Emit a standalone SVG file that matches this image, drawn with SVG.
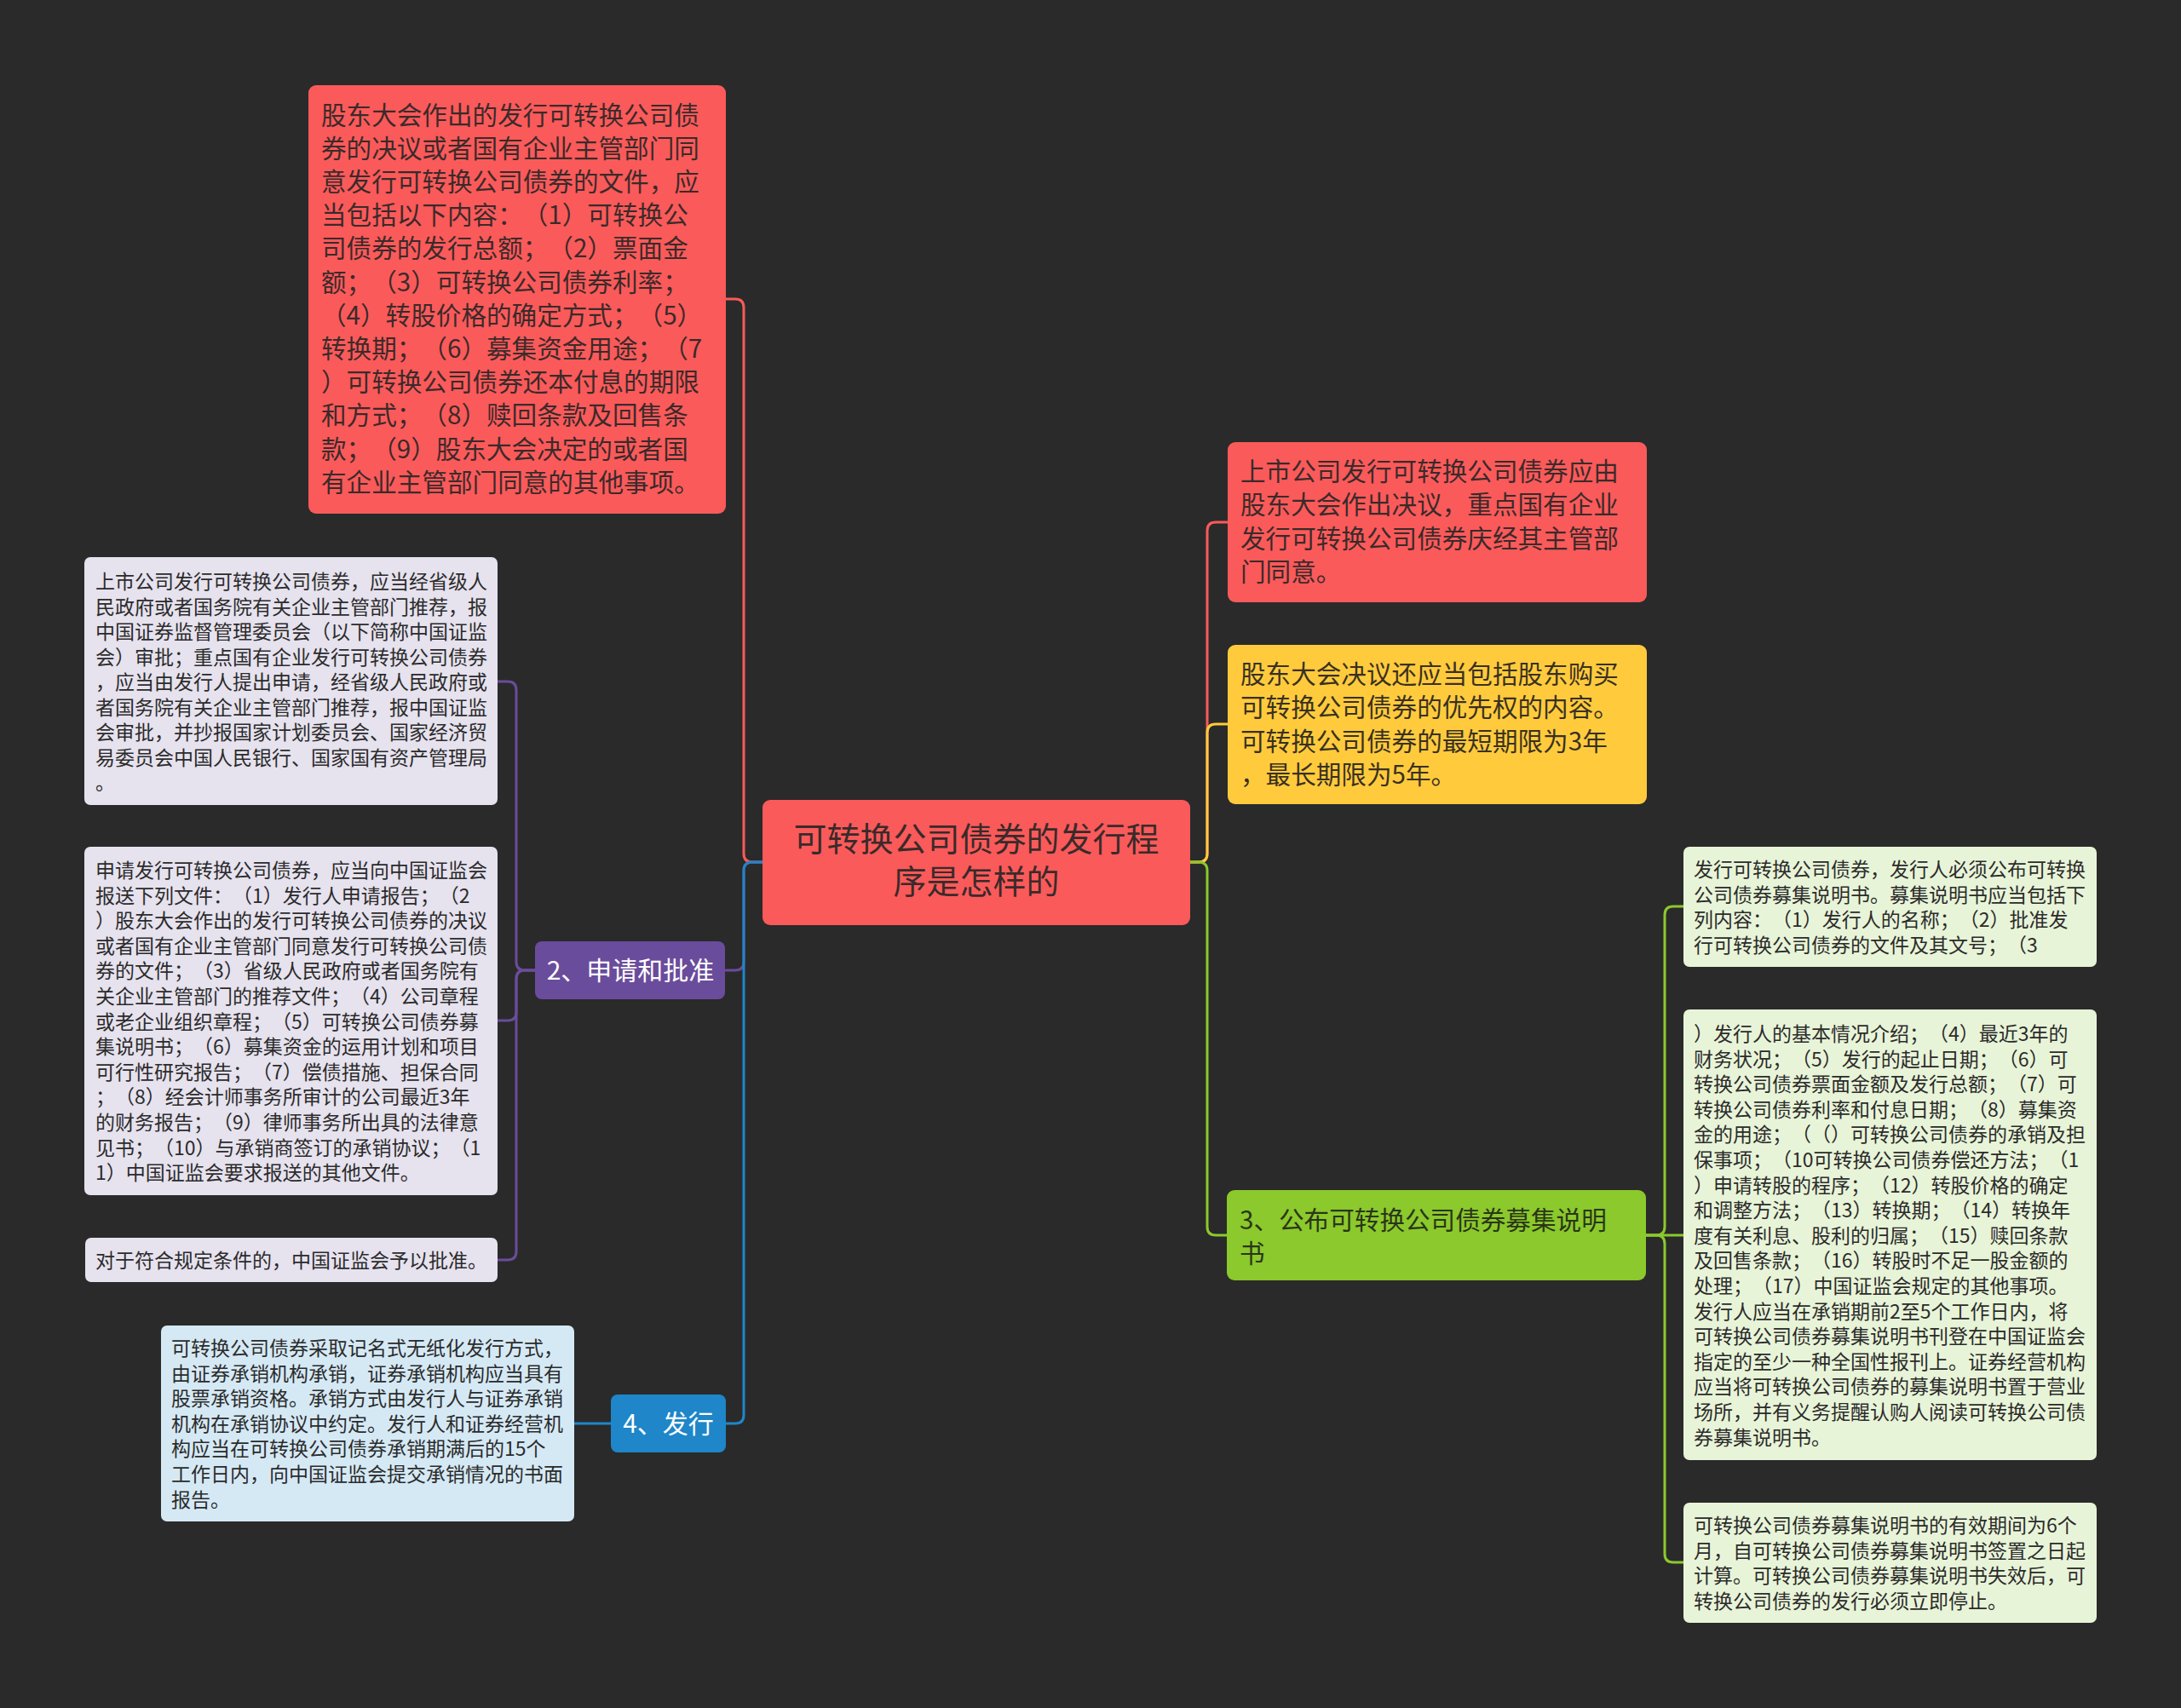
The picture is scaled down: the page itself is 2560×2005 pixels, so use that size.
<svg xmlns="http://www.w3.org/2000/svg" width="2560" height="2005" viewBox="0 0 2560 2005">
<style>
text{font-family:"Noto Sans CJK SC","Noto Sans",sans-serif;dominant-baseline:central;text-spacing-trim:space-all}
.t30{font-size:29.6px}
.t24{font-size:23px}
.dark{fill:#3a2a2a}
.ink{fill:#2b2b2b}
.w{fill:#ffffff;font-size:30px}
.c{fill:none;stroke-width:3;stroke-linecap:round;stroke-linejoin:round}
</style>
<rect x="0" y="0" width="2560" height="2005" fill="#2a2a2a"/>
<g id="connectors">
<path class="c" stroke="#fa5a5a" d="M895,1012 H883 Q873,1012 873,1002 V361 Q873,351 863,351 H852"/>
<path class="c" stroke="#6a4c9c" d="M895,1012 H883 Q873,1012 873,1022 V1129 Q873,1139 863,1139 H852"/>
<path class="c" stroke="#1e86c9" d="M895,1012 H883 Q873,1012 873,1022 V1661 Q873,1671 863,1671 H852"/>
<path class="c" stroke="#6a4c9c" d="M628,1139 H616 Q606,1139 606,1129 V810 Q606,800 596,800 H584"/>
<path class="c" stroke="#6a4c9c" d="M628,1139 H616 Q606,1139 606,1149 V1188 Q606,1198 596,1198 H584"/>
<path class="c" stroke="#6a4c9c" d="M628,1139 H616 Q606,1139 606,1149 V1469 Q606,1479 596,1479 H584"/>
<path class="c" stroke="#1e86c9" d="M717,1671 H674"/>
<path class="c" stroke="#fa5a5a" d="M1397,1012 H1407 Q1417,1012 1417,1002 V623 Q1417,613 1427,613 H1441"/>
<path class="c" stroke="#ffcb3d" d="M1397,1012 H1407 Q1417,1012 1417,1002 V860 Q1417,850 1427,850 H1441"/>
<path class="c" stroke="#8bc92c" d="M1397,1012 H1407 Q1417,1012 1417,1022 V1440 Q1417,1450 1427,1450 H1440"/>
<path class="c" stroke="#8bc92c" d="M1932,1450 H1944 Q1954,1450 1954,1440 V1074 Q1954,1064 1964,1064 H1976"/>
<path class="c" stroke="#8bc92c" d="M1932,1450 H1976"/>
<path class="c" stroke="#8bc92c" d="M1932,1450 H1944 Q1954,1450 1954,1460 V1824 Q1954,1834 1964,1834 H1976"/>
</g>
<g id="root">
<rect x="895" y="939" width="502" height="147" rx="9" fill="#fa5a5a"/>
<text x="1146" y="982" font-size="39" text-anchor="middle" class="dark">可转换公司债券的发行程</text>
<text x="1146" y="1032" font-size="39" text-anchor="middle" class="dark">序是怎样的</text>
</g>
<g id="n-red-left">
<rect x="362" y="100" width="490" height="503" rx="9" fill="#fa5a5a"/>
<g class="t30 dark">
<text x="377" y="133">股东大会作出的发行可转换公司债</text>
<text x="377" y="172.2">券的决议或者国有企业主管部门同</text>
<text x="377" y="211.4">意发行可转换公司债券的文件，应</text>
<text x="377" y="250.6">当包括以下内容：（1）可转换公</text>
<text x="377" y="289.8">司债券的发行总额；（2）票面金</text>
<text x="377" y="329">额；（3）可转换公司债券利率；</text>
<text x="377" y="368.2">（4）转股价格的确定方式；（5）</text>
<text x="377" y="407.4">转换期；（6）募集资金用途；（7</text>
<text x="377" y="446.6">）可转换公司债券还本付息的期限</text>
<text x="377" y="485.8">和方式；（8）赎回条款及回售条</text>
<text x="377" y="525">款；（9）股东大会决定的或者国</text>
<text x="377" y="564.2">有企业主管部门同意的其他事项。</text>
</g>
</g>
<g id="n-apply">
<rect x="628" y="1105" width="223" height="68" rx="8" fill="#6a4c9c"/>
<text x="740" y="1137" text-anchor="middle" class="w">2、申请和批准</text>
</g>
<g id="n-gray1">
<rect x="99" y="654" width="485" height="291" rx="7" fill="#e6e2ee"/>
<g class="t24 ink">
<text x="112" y="681">上市公司发行可转换公司债券，应当经省级人</text>
<text x="112" y="710.5">民政府或者国务院有关企业主管部门推荐，报</text>
<text x="112" y="740">中国证券监督管理委员会（以下简称中国证监</text>
<text x="112" y="769.5">会）审批；重点国有企业发行可转换公司债券</text>
<text x="112" y="799">，应当由发行人提出申请，经省级人民政府或</text>
<text x="112" y="828.5">者国务院有关企业主管部门推荐，报中国证监</text>
<text x="112" y="858">会审批，并抄报国家计划委员会、国家经济贸</text>
<text x="112" y="887.5">易委员会中国人民银行、国家国有资产管理局</text>
<text x="112" y="917">。</text>
</g>
</g>
<g id="n-gray2">
<rect x="99" y="994" width="485" height="409" rx="7" fill="#e6e2ee"/>
<g class="t24 ink">
<text x="112" y="1020">申请发行可转换公司债券，应当向中国证监会</text>
<text x="112" y="1049.6">报送下列文件：（1）发行人申请报告；（2</text>
<text x="112" y="1079.2">）股东大会作出的发行可转换公司债券的决议</text>
<text x="112" y="1108.8">或者国有企业主管部门同意发行可转换公司债</text>
<text x="112" y="1138.4">券的文件；（3）省级人民政府或者国务院有</text>
<text x="112" y="1168">关企业主管部门的推荐文件；（4）公司章程</text>
<text x="112" y="1197.6">或老企业组织章程；（5）可转换公司债券募</text>
<text x="112" y="1227.2">集说明书；（6）募集资金的运用计划和项目</text>
<text x="112" y="1256.8">可行性研究报告；（7）偿债措施、担保合同</text>
<text x="112" y="1286.4">；（8）经会计师事务所审计的公司最近3年</text>
<text x="112" y="1316">的财务报告；（9）律师事务所出具的法律意</text>
<text x="112" y="1345.6">见书；（10）与承销商签订的承销协议；（1</text>
<text x="112" y="1375.2">1）中国证监会要求报送的其他文件。</text>
</g>
</g>
<g id="n-gray3">
<rect x="100" y="1453" width="484" height="52" rx="7" fill="#e6e2ee"/>
<text x="112" y="1478" class="t24 ink">对于符合规定条件的，中国证监会予以批准。</text>
</g>
<g id="n-issue">
<rect x="717" y="1637" width="135" height="68" rx="8" fill="#1e86c9"/>
<text x="784.5" y="1669" text-anchor="middle" class="w">4、发行</text>
</g>
<g id="n-blue">
<rect x="189" y="1556" width="485" height="230" rx="7" fill="#d5e9f5"/>
<g class="t24 ink">
<text x="201" y="1581">可转换公司债券采取记名式无纸化发行方式，</text>
<text x="201" y="1610.6">由证券承销机构承销，证券承销机构应当具有</text>
<text x="201" y="1640.2">股票承销资格。承销方式由发行人与证券承销</text>
<text x="201" y="1669.8">机构在承销协议中约定。发行人和证券经营机</text>
<text x="201" y="1699.4">构应当在可转换公司债券承销期满后的15个</text>
<text x="201" y="1729">工作日内，向中国证监会提交承销情况的书面</text>
<text x="201" y="1758.6">报告。</text>
</g>
</g>
<g id="n-red-right">
<rect x="1441" y="519" width="492" height="188" rx="9" fill="#fa5a5a"/>
<g class="t30 dark">
<text x="1456" y="551">上市公司发行可转换公司债券应由</text>
<text x="1456" y="590.5">股东大会作出决议，重点国有企业</text>
<text x="1456" y="630">发行可转换公司债券庆经其主管部</text>
<text x="1456" y="669.5">门同意。</text>
</g>
</g>
<g id="n-yellow">
<rect x="1441" y="757" width="492" height="187" rx="9" fill="#ffcb3d"/>
<g class="t30" fill="#3a3020">
<text x="1456" y="789">股东大会决议还应当包括股东购买</text>
<text x="1456" y="828.5">可转换公司债券的优先权的内容。</text>
<text x="1456" y="868">可转换公司债券的最短期限为3年</text>
<text x="1456" y="907.5">，最长期限为5年。</text>
</g>
</g>
<g id="n-publish">
<rect x="1440" y="1397" width="492" height="106" rx="9" fill="#8bc92c"/>
<g class="t30" fill="#2a3518">
<text x="1455" y="1430">3、公布可转换公司债券募集说明</text>
<text x="1455" y="1469">书</text>
</g>
</g>
<g id="n-green1">
<rect x="1976" y="994" width="485" height="141" rx="7" fill="#e8f4d8"/>
<g class="t24 ink">
<text x="1988" y="1019">发行可转换公司债券，发行人必须公布可转换</text>
<text x="1988" y="1048.6">公司债券募集说明书。募集说明书应当包括下</text>
<text x="1988" y="1078.2">列内容：（1）发行人的名称；（2）批准发</text>
<text x="1988" y="1107.8">行可转换公司债券的文件及其文号；（3</text>
</g>
</g>
<g id="n-green2">
<rect x="1976" y="1185" width="485" height="529" rx="7" fill="#e8f4d8"/>
<g class="t24 ink">
<text x="1988" y="1212">）发行人的基本情况介绍；（4）最近3年的</text>
<text x="1988" y="1241.6">财务状况；（5）发行的起止日期；（6）可</text>
<text x="1988" y="1271.2">转换公司债券票面金额及发行总额；（7）可</text>
<text x="1988" y="1300.8">转换公司债券利率和付息日期；（8）募集资</text>
<text x="1988" y="1330.4">金的用途；（（）可转换公司债券的承销及担</text>
<text x="1988" y="1360">保事项；（10可转换公司债券偿还方法；（1</text>
<text x="1988" y="1389.6">）申请转股的程序；（12）转股价格的确定</text>
<text x="1988" y="1419.2">和调整方法；（13）转换期；（14）转换年</text>
<text x="1988" y="1448.8">度有关利息、股利的归属；（15）赎回条款</text>
<text x="1988" y="1478.4">及回售条款；（16）转股时不足一股金额的</text>
<text x="1988" y="1508">处理；（17）中国证监会规定的其他事项。</text>
<text x="1988" y="1537.6">发行人应当在承销期前2至5个工作日内，将</text>
<text x="1988" y="1567.2">可转换公司债券募集说明书刊登在中国证监会</text>
<text x="1988" y="1596.8">指定的至少一种全国性报刊上。证券经营机构</text>
<text x="1988" y="1626.4">应当将可转换公司债券的募集说明书置于营业</text>
<text x="1988" y="1656">场所，并有义务提醒认购人阅读可转换公司债</text>
<text x="1988" y="1685.6">券募集说明书。</text>
</g>
</g>
<g id="n-green3">
<rect x="1976" y="1764" width="485" height="141" rx="7" fill="#e8f4d8"/>
<g class="t24 ink">
<text x="1988" y="1789">可转换公司债券募集说明书的有效期间为6个</text>
<text x="1988" y="1818.6">月，自可转换公司债券募集说明书签置之日起</text>
<text x="1988" y="1848.2">计算。可转换公司债券募集说明书失效后，可</text>
<text x="1988" y="1877.8">转换公司债券的发行必须立即停止。</text>
</g>
</g>
</svg>
